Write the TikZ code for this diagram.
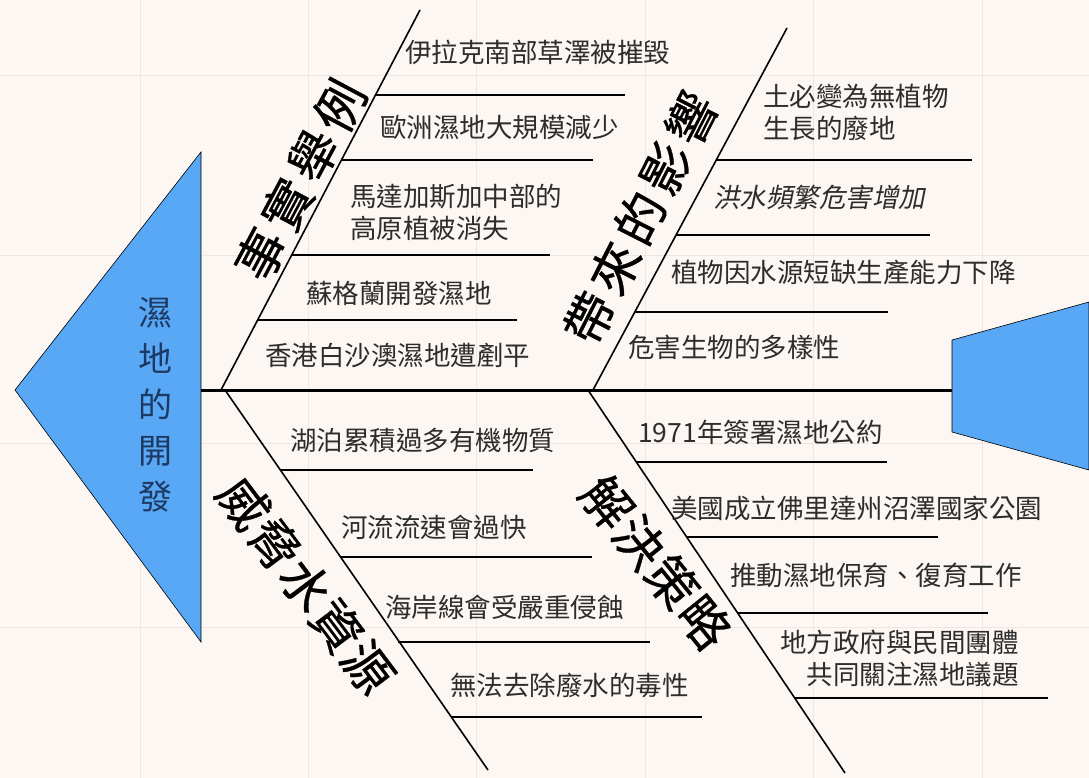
\documentclass[tikz,border=0pt]{standalone}
\usepackage{fontspec}
\setmainfont{Noto Sans CJK TC}
\newfontfamily\slantfont{Noto Sans CJK TC}[FakeSlant=0.2]
\newfontfamily\bonefont{Noto Sans CJK TC}[LetterSpace=12, FakeBold=0.6]
\newfontfamily\bonefonttight{Noto Sans CJK TC}[LetterSpace=3, FakeBold=0.6]
\usepackage{xcolor}
\definecolor{paper}{RGB}{252,247,243}
\definecolor{gridline}{RGB}{238,230,226}
\definecolor{headblue}{RGB}{88,168,245}
\definecolor{headtext}{RGB}{30,58,100}
\definecolor{itemtext}{RGB}{45,45,45}
\tikzstyle{spine} = [line width=3pt]
\tikzstyle{bone} = [line width=1.6pt]
\tikzstyle{twig} = [line width=2.6pt]
\tikzstyle{head} = [fill=headblue, draw=black, line width=0.6pt]
\tikzstyle{item} = [anchor=west, inner sep=0pt, text=itemtext, font=\fontsize{26.5}{32}\selectfont]
\tikzstyle{bonelabel} = [inner sep=0pt, font=\bonefont\fontsize{50}{50}\selectfont]
\tikzstyle{bonelabeltight} = [inner sep=0pt, font=\bonefonttight\fontsize{50}{50}\selectfont]

\begin{document}
\begin{tikzpicture}[x=1pt, y=-1pt]
    \fill [paper] (0,0) rectangle (1089,778);
    \useasboundingbox (0,0) rectangle (1089,778);
    \foreach \gx in {140,308,476,645,813,982} \draw [gridline] (\gx,0) -- (\gx,778);
    \foreach \gy in {75,255,443,627} \draw [gridline] (0,\gy) -- (1089,\gy);

    \draw [head] (15,390) -- (201,152) -- (201,642) -- cycle;
    \draw [head] (952,340) -- (1089,302) -- (1089,470) -- (952,432) -- cycle;
    \node (topic) at (155,405) [align=center, text=headtext, font=\fontsize{34}{46}\selectfont] {濕\\地\\的\\開\\發};

    \coordinate (tail) at (201,390);
    \coordinate (nose) at (952,390);
    \coordinate (ul0) at (221,390);
    \coordinate (ul1) at (420,10);
    \coordinate (ur0) at (593,390);
    \coordinate (ur1) at (787,28);
    \coordinate (ll0) at (225,390);
    \coordinate (ll1) at (488,770);
    \coordinate (lr0) at (588,390);
    \coordinate (lr1) at (845,773);

    \draw [spine] (tail) -- (nose);
    \draw [bone] (ul0) -- (ul1);
    \draw [bone] (ur0) -- (ur1);
    \draw [bone] (ll0) -- (ll1);
    \draw [bone] (lr0) -- (lr1);

    \node (examples) at (300,180) [bonelabel, rotate=62] {事實舉例};
    \node (effects) at (640,218) [bonelabel, rotate=63] {帶來的影響};
    \node (threats) at (306,585) [bonelabeltight, rotate=-53] {威脅水資源};
    \node (solutions) at (656,562) [bonelabeltight, rotate=-51] {解決策略};

    % facts
    \coordinate (exA) at (376,95);  \coordinate (exAe) at (625,95);
    \coordinate (exB) at (341,160); \coordinate (exBe) at (593,160);
    \coordinate (exC) at (292,255); \coordinate (exCe) at (550,255);
    \coordinate (exD) at (258,320); \coordinate (exDe) at (517,320);
    \draw [twig] (exA) -- (exAe);
    \draw [twig] (exB) -- (exBe);
    \draw [twig] (exC) -- (exCe);
    \draw [twig] (exD) -- (exDe);
    \node (iraq) at (405,52) [item] {伊拉克南部草澤被摧毀};
    \node (europe) at (380,127) [item] {歐洲濕地大規模減少};
    \node (madagascar) at (350,212) [item, align=left] {馬達加斯加中部的\\高原植被消失};
    \node (scotland) at (306,293) [item] {蘇格蘭開發濕地};
    \node (hongkong) at (265,355) [item] {香港白沙澳濕地遭剷平};

    % effects
    \coordinate (efA) at (716,160); \coordinate (efAe) at (972,160);
    \coordinate (efB) at (676,235); \coordinate (efBe) at (930,235);
    \coordinate (efC) at (635,312); \coordinate (efCe) at (888,312);
    \draw [twig] (efA) -- (efAe);
    \draw [twig] (efB) -- (efBe);
    \draw [twig] (efC) -- (efCe);
    \node (wasteland) at (763,112) [item, align=left] {土必變為無植物\\生長的廢地};
    \node (flood) at (713,197) [item, font=\slantfont\fontsize{26.5}{32}\selectfont] {洪水頻繁危害增加};
    \node (plants) at (671,272) [item] {植物因水源短缺生產能力下降};
    \node (diversity) at (628,347) [item] {危害生物的多樣性};

    % threats
    \coordinate (thA) at (280,470); \coordinate (thAe) at (533,470);
    \coordinate (thB) at (341,557); \coordinate (thBe) at (592,557);
    \coordinate (thC) at (398,642); \coordinate (thCe) at (650,642);
    \coordinate (thD) at (451,717); \coordinate (thDe) at (702,717);
    \draw [twig] (thA) -- (thAe);
    \draw [twig] (thB) -- (thBe);
    \draw [twig] (thC) -- (thCe);
    \draw [twig] (thD) -- (thDe);
    \node (lakes) at (290,440) [item] {湖泊累積過多有機物質};
    \node (rivers) at (341,527) [item] {河流流速會過快};
    \node (coast) at (385,607) [item] {海岸線會受嚴重侵蝕};
    \node (toxin) at (450,685) [item] {無法去除廢水的毒性};

    % solutions
    \coordinate (soA) at (636,462); \coordinate (soAe) at (887,462);
    \coordinate (soB) at (687,537); \coordinate (soBe) at (938,537);
    \coordinate (soC) at (738,613); \coordinate (soCe) at (988,613);
    \coordinate (soD) at (795,698); \coordinate (soDe) at (1048,698);
    \draw [twig] (soA) -- (soAe);
    \draw [twig] (soB) -- (soBe);
    \draw [twig] (soC) -- (soCe);
    \draw [twig] (soD) -- (soDe);
    \node (ramsar) at (638,432) [item] {1971年簽署濕地公約};
    \node (florida) at (671,508) [item] {美國成立佛里達州沼澤國家公園};
    \node (restore) at (730,575) [item] {推動濕地保育、復育工作};
    \node (groups) at (780,658) [item, align=right] {地方政府與民間團體\\共同關注濕地議題};
\end{tikzpicture}
\end{document}
